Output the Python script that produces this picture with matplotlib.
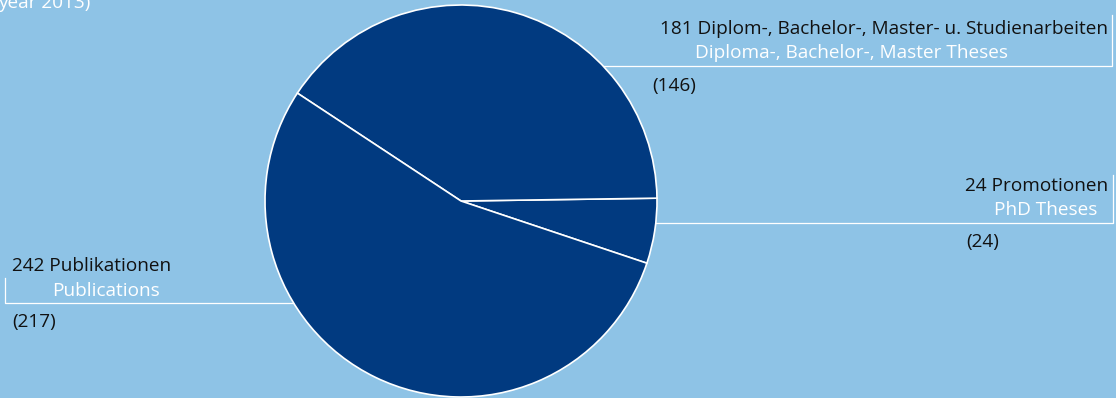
import matplotlib
matplotlib.use("Agg")
import matplotlib.pyplot as plt

# Werte (Vorjahr in Klammern)
kategorien = ["Promotionen", "Diplom-, Bachelor-, Master- u. Studienarbeiten", "Publikationen"]
englisch = ["PhD Theses", "Diploma-, Bachelor-, Master Theses", "Publications"]
werte = [24, 181, 242]
vorjahr = [24, 146, 217]

bg = "#8ec3e6"
dunkelblau = "#013a80"
W, H = 1116, 398

plt.rcParams["font.family"] = ["Open Sans", "DejaVu Sans"]

fig = plt.figure(figsize=(W / 100, H / 100), dpi=100, facecolor=bg)
ax = fig.add_axes([0, 0, 1, 1])
ax.set_facecolor(bg)

cx, cy, r = 461, 197, 196
ax.pie(werte, colors=[dunkelblau] * 3, startangle=-18.5, counterclock=True,
       center=(cx, cy), radius=r,
       wedgeprops=dict(edgecolor="white", linewidth=1.2), frame=False)
ax.set_xlim(0, W)
ax.set_ylim(0, H)
ax.set_aspect("equal")
ax.axis("off")

lw = 0.9
fs = 13.7
# Diplom / Bachelor / Master (rechts oben)
ax.plot([cx, 1112, 1112], [H - 66, H - 66, H - 15], color="white", lw=lw, zorder=0)
ax.text(1108, H - 29, f"{werte[1]} {kategorien[1]}", ha="right", va="center", fontsize=fs, color="#111111")
ax.text(695, H - 53, englisch[1], ha="left", va="center", fontsize=fs, color="white")
ax.text(652, H - 86, f"({vorjahr[1]})", ha="left", va="center", fontsize=fs, color="#111111")

# Promotionen (rechts)
ax.plot([cx, 1113, 1113], [H - 223, H - 223, H - 175], color="white", lw=lw, zorder=0)
ax.text(1108, H - 186, f"{werte[0]} {kategorien[0]}", ha="right", va="center", fontsize=fs, color="#111111")
ax.text(1097, H - 210, englisch[0], ha="right", va="center", fontsize=fs, color="white")
ax.text(966, H - 242, f"({vorjahr[0]})", ha="left", va="center", fontsize=fs, color="#111111")

# Publikationen (links)
ax.plot([5, 5, cx], [H - 278, H - 303, H - 303], color="white", lw=lw, zorder=0)
ax.text(12, H - 266, f"{werte[2]} {kategorien[2]}", ha="left", va="center", fontsize=fs, color="#111111")
ax.text(52, H - 291, englisch[2], ha="left", va="center", fontsize=fs, color="white")
ax.text(12, H - 322, f"({vorjahr[2]})", ha="left", va="center", fontsize=fs, color="#111111")

# abgeschnittene Zeile am oberen Rand
ax.text(-2, H - 8, "year 2013)", ha="left", va="baseline", fontsize=fs, color="white")

fig.savefig("out.png", dpi=100, facecolor=bg)
